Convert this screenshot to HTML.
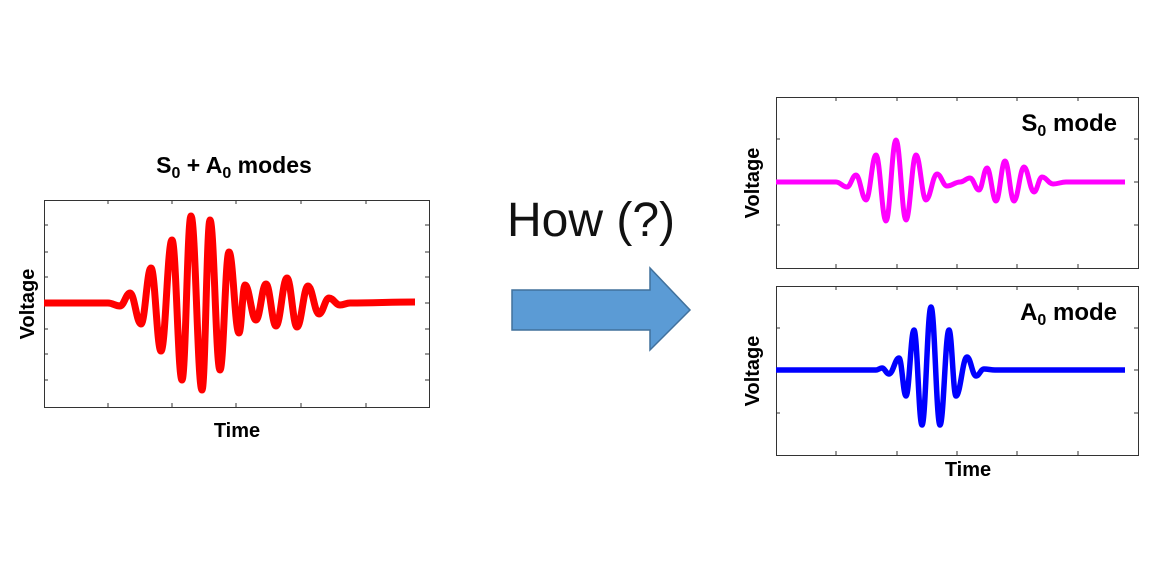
<!DOCTYPE html>
<html><head><meta charset="utf-8"><style>
body{margin:0;background:#fff;width:1152px;height:576px;overflow:hidden}
svg text{font-family:"Liberation Sans",sans-serif}
</style></head><body>
<svg id="s" width="1152" height="576" viewBox="0 0 1152 576">
<g fill="none" stroke="#333" stroke-width="1">
<rect x="44.5" y="200.5" width="385" height="207"/>
<rect x="776.5" y="97.5" width="362" height="171"/>
<rect x="776.5" y="286.5" width="362" height="169"/>
</g>
<g stroke="#333" stroke-width="1" id="ticks"></g>
<g font-weight="bold" fill="#000">
<text x="234" y="173" font-size="23" text-anchor="middle">S<tspan font-size="16" dy="5">0</tspan><tspan dy="-5"> + A</tspan><tspan font-size="16" dy="5">0</tspan><tspan dy="-5"> modes</tspan></text>
<text x="237" y="437" font-size="20" text-anchor="middle">Time</text>
<text transform="translate(34,304) rotate(-90)" font-size="20" text-anchor="middle">Voltage</text>
<text x="1117" y="131" font-size="24" text-anchor="end">S<tspan font-size="16" dy="5">0</tspan><tspan dy="-5"> mode</tspan></text>
<text x="1117" y="320" font-size="24" text-anchor="end">A<tspan font-size="16" dy="5">0</tspan><tspan dy="-5"> mode</tspan></text>
<text x="968" y="476" font-size="20" text-anchor="middle">Time</text>
<text transform="translate(759,183) rotate(-90)" font-size="20" text-anchor="middle">Voltage</text>
<text transform="translate(759,371) rotate(-90)" font-size="20" text-anchor="middle">Voltage</text>
</g>
<text x="507" y="236" font-size="48" fill="#111">How (?)</text>
<path d="M512,290 H650 V268 L690,310 L650,350 V330 H512 Z" fill="#5b9bd5" stroke="#41719c" stroke-width="1.5"/>
<path id="w1" fill="none" stroke="#ff0000" stroke-width="7" stroke-linejoin="round"/>
<path id="w2" fill="none" stroke="#ff00ff" stroke-width="5" stroke-linejoin="round"/>
<path id="w3" fill="none" stroke="#0000ff" stroke-width="5.5" stroke-linejoin="round"/>
</svg>
<script>
function P(pts){var d="M"+pts[0][0]+","+pts[0][1];for(var i=1;i<pts.length;i++){var a=pts[i-1],b=pts[i],dx=b[0]-a[0];d+=" C"+(a[0]+dx*0.4)+","+a[1]+" "+(b[0]-dx*0.4)+","+b[1]+" "+b[0]+","+b[1];}return d;}
document.getElementById("w1").setAttribute("d",P([[44,303],[108,303],[120,306],[130,293],[141,324],[151,268],[161,351],[172,240],[182,380],[191,216],[202,390],[210,220],[220,370],[229,252],[239,333],[245,285],[256,320],[266,284],[276,326],[287,278],[297,327],[308,286],[319,314],[329,298],[340,305],[350,303],[415,302]]));
document.getElementById("w2").setAttribute("d",P([[776,182],[836,182],[847,187],[856,175],[866,200],[876,155],[886,221],[896,140],[906,220],[916,155],[926,200],[937,174],[947,186],[960,182],[970,178],[979,190],[987,168],[996,201],[1005,161],[1014,201],[1024,167],[1034,192],[1042,177],[1053,184],[1066,182],[1125,182]]));
document.getElementById("w3").setAttribute("d",P([[776,370],[876,370],[882,368],[889,374],[899,358],[906,396],[914,330],[922,425],[931,307],[940,425],[949,330],[956,396],[967,357],[976,376],[984,369],[995,370],[1125,370]]));
var t="",g=document.getElementById("ticks");
function L(x1,y1,x2,y2){t+='<line x1="'+x1+'" y1="'+y1+'" x2="'+x2+'" y2="'+y2+'"/>';}
[108,172,236,301,366].forEach(function(x){L(x,407,x,403);L(x,200,x,204);});
[225,252,277,303,329,354,380].forEach(function(y){L(44,y,48,y);L(429,y,425,y);});
[836,897,957,1017,1078].forEach(function(x){L(x,268,x,264);L(x,97,x,101);L(x,455,x,451);L(x,286,x,290);});
[139,182,225].forEach(function(y){L(776,y,780,y);L(1138,y,1134,y);});
[328,370,413].forEach(function(y){L(776,y,780,y);L(1138,y,1134,y);});
g.innerHTML=t;
</script>
</body></html>
